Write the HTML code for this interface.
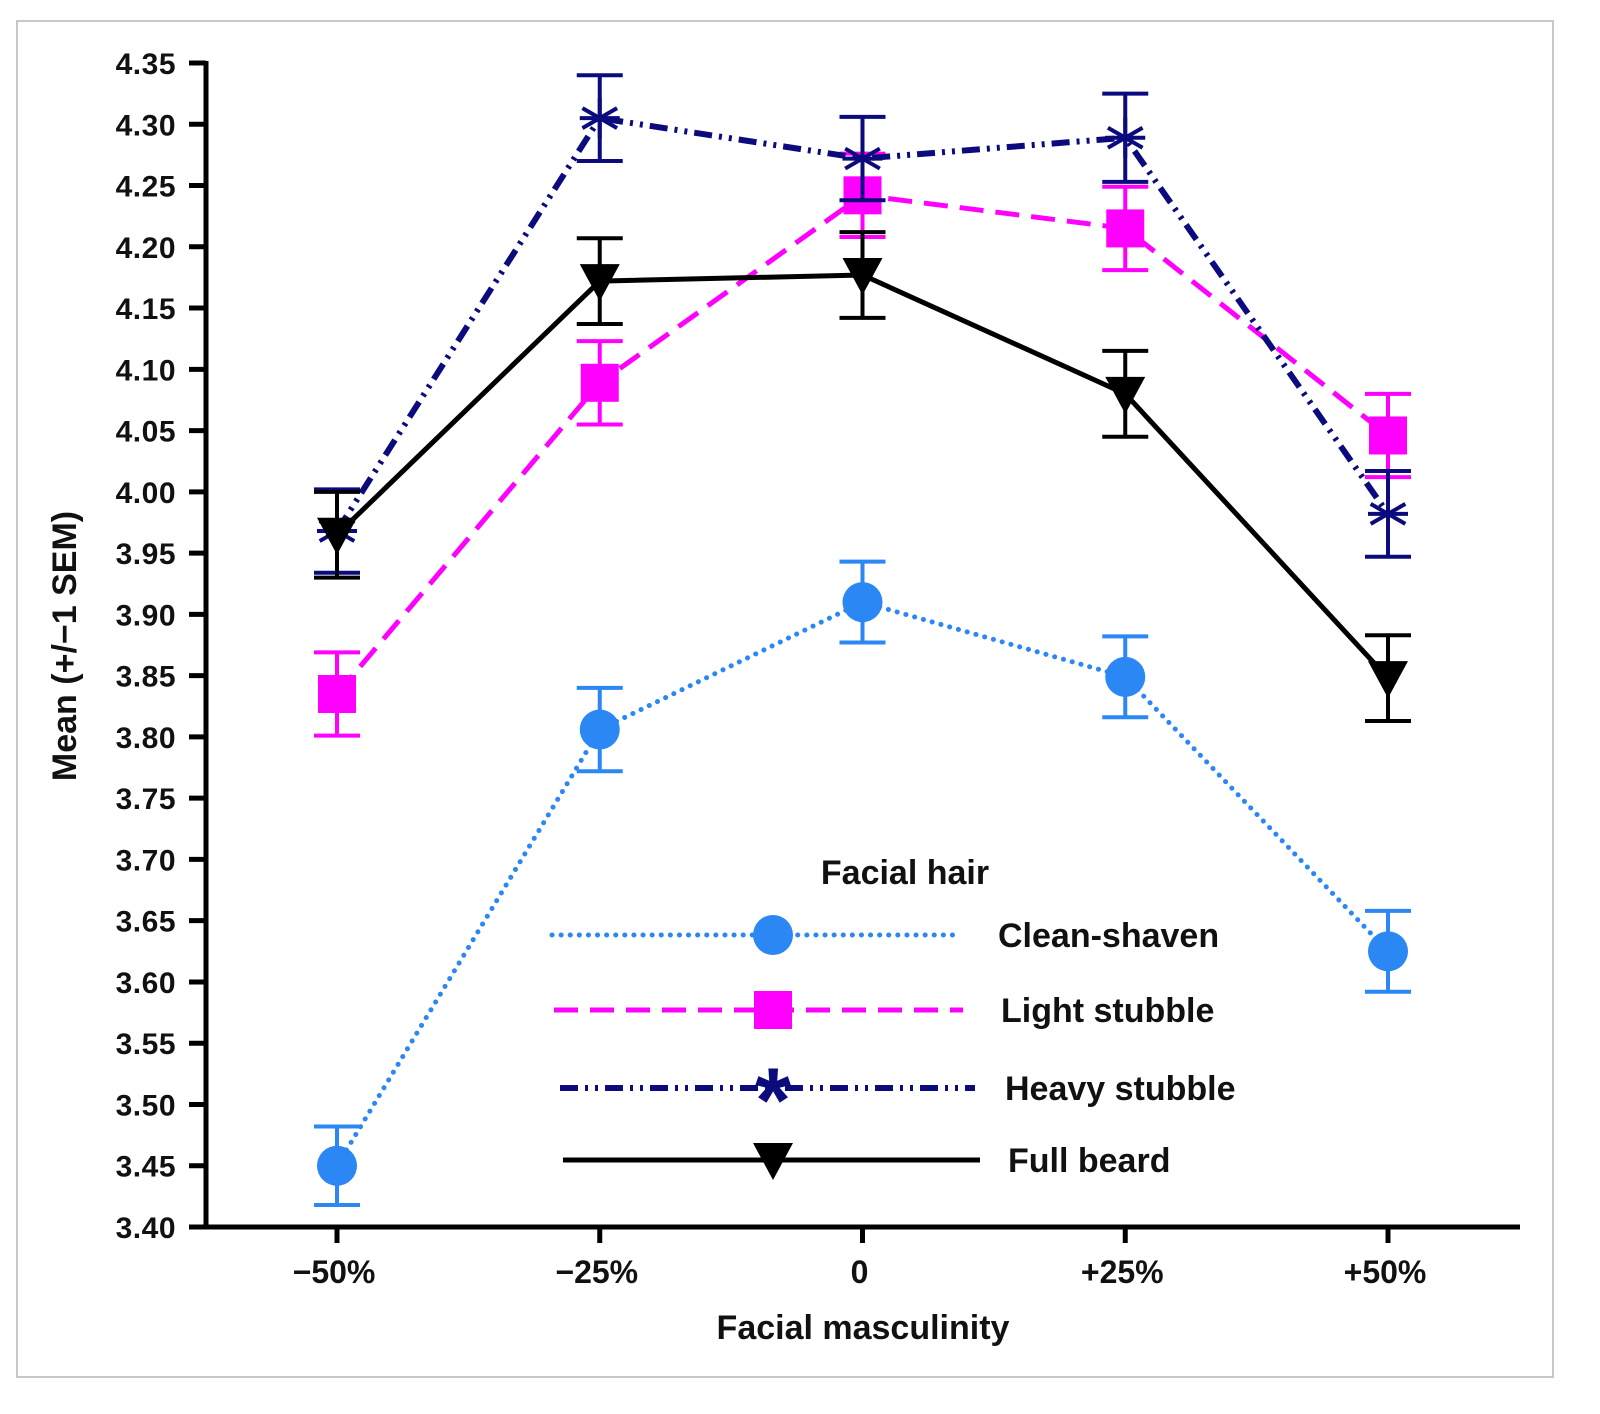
<!DOCTYPE html>
<html><head><meta charset="utf-8"><style>
body{margin:0;background:#fff}
svg{display:block;font-family:"Liberation Sans",Arial,sans-serif;font-weight:bold}
</style></head><body>
<svg id="chart" width="1600" height="1414" xmlns="http://www.w3.org/2000/svg">
<rect x="17" y="21" width="1536" height="1356" fill="#fff" stroke="#c8c8c8" stroke-width="2"/>
<g id="plot"></g>
</svg>
<script>
const categories=["\u221250%","\u221225%","0","+25%","+50%"];
const yTicks=["3.40","3.45","3.50","3.55","3.60","3.65","3.70","3.75","3.80","3.85","3.90","3.95","4.00","4.05","4.10","4.15","4.20","4.25","4.30","4.35"];
const cleanMean=[3.450,3.806,3.910,3.849,3.625];
const cleanSem=[0.032,0.034,0.033,0.033,0.033];
const lightMean=[3.835,4.089,4.242,4.215,4.046];
const lightSem=[0.034,0.034,0.034,0.034,0.034];
const heavyMean=[3.968,4.305,4.272,4.289,3.982];
const heavySem=[0.034,0.035,0.034,0.036,0.035];
const fullMean=[3.965,4.172,4.177,4.080,3.848];
const fullSem=[0.035,0.035,0.035,0.035,0.035];
const seriesNames=["Clean-shaven","Light stubble","Heavy stubble","Full beard"];

const NS="http://www.w3.org/2000/svg";
const g=document.getElementById('plot');
function X(i){return 337+i*262.75;}
function Y(v){return 1227-(v-3.40)/0.95*1164;}
function el(t,a,p){const e=document.createElementNS(NS,t);for(const k in a)e.setAttribute(k,a[k]);(p||g).appendChild(e);return e;}

const yAxis=el('line',{x1:206,y1:61,x2:206,y2:1229,stroke:'#000','stroke-width':5});


const xAxis=el('line',{x1:189,y1:1227,x2:1520,y2:1227,stroke:'#000','stroke-width':5});


yTicks.forEach(t=>{
  const y=Y(parseFloat(t));
  const tk=el('line',{x1:189,y1:y,x2:206,y2:y,stroke:'#000','stroke-width':5});
  
  
  const tx=el('text',{x:176,y:y+11,'text-anchor':'end','font-size':30,fill:'#111','letter-spacing':'0.5'});
  tx.textContent=t;
  
  
});
categories.forEach((c,i)=>{
  const tk=el('line',{x1:X(i),y1:1227,x2:X(i),y2:1243,stroke:'#000','stroke-width':5});
  
  
  const tx=el('text',{x:X(i)-3,y:1283,'text-anchor':'middle','font-size':32,fill:'#111'});
  tx.textContent=c;
  
  
});
const xt=el('text',{x:863,y:1339,'text-anchor':'middle','font-size':34,fill:'#111'});
xt.textContent='Facial masculinity';


const yt=el('text',{x:0,y:0,'text-anchor':'middle','font-size':34,fill:'#111',transform:'translate(76,646) rotate(-90)'});
yt.textContent='Mean (+/\u22121 SEM)';



function marker(kind,x,y,color,parent){
  let m;
  if(kind==='circle') m=el('circle',{cx:x,cy:y,r:20,fill:color},parent);
  else if(kind==='square') m=el('rect',{x:x-19,y:y-19,width:38,height:38,fill:color},parent);
  else if(kind==='star'){
    m=el('g',{stroke:color,'stroke-width':4},parent);
    for(let a=0;a<3;a++){const ang=a*Math.PI/3+Math.PI/2;
      el('line',{x1:x-20*Math.cos(ang),y1:y-20*Math.sin(ang),x2:x+20*Math.cos(ang),y2:y+20*Math.sin(ang)},m);}
    el('line',{x1:x-20,y1:y,x2:x+20,y2:y},m);
  } else m=el('polygon',{points:`${x-20},${y-17} ${x+20},${y-17} ${x},${y+20}`,fill:color},parent);
  return m;
}
const series=[
 {mean:cleanMean,sem:cleanSem,color:'#2b87f3',dash:'0.1 9',cap:'round',w:5,kind:'circle',name:'clean-shaven'},
 {mean:lightMean,sem:lightSem,color:'#ff00ff',dash:'24 12',cap:'butt',w:5,kind:'square',name:'light-stubble'},
 {mean:heavyMean,sem:heavySem,color:'#0b0b7e',dash:'18 7 3 7 3 7',cap:'butt',w:6,kind:'star',name:'heavy-stubble'},
 {mean:fullMean,sem:fullSem,color:'#000',dash:'none',cap:'butt',w:5,kind:'tri',name:'full-beard'}
];
series.forEach(s=>{
  const sg=el('g',{});
  
  
  const pts=s.mean.map((v,i)=>X(i)+','+Y(v)).join(' ');
  el('polyline',{points:pts,fill:'none',stroke:s.color,'stroke-width':s.w,'stroke-dasharray':s.dash,'stroke-linecap':s.cap},sg);
  s.mean.forEach((v,i)=>{
    const x=X(i),y1=Y(v+s.sem[i]),y2=Y(v-s.sem[i]);
    const eb=el('g',{stroke:s.color,'stroke-width':4},sg);
    
    
    el('line',{x1:x,y1:y1,x2:x,y2:y2},eb);
    el('line',{x1:x-23,y1:y1,x2:x+23,y2:y1},eb);
    el('line',{x1:x-23,y1:y2,x2:x+23,y2:y2},eb);
    const m=marker(s.kind,x,Y(v),s.color,sg);
    
    
  });
});
const lg=el('g',{});


const lt=el('text',{x:905,y:884,'text-anchor':'middle','font-size':34,fill:'#111'},lg);
lt.textContent='Facial hair';


const legY=[935,1010,1088,1160];
const legX1=[552,554,560,563],legX2=[955,963,975,980],labX=[998,1001,1005,1008];
series.forEach((s,i)=>{
  const e=el('g',{},lg);
  
  
  el('line',{x1:legX1[i],y1:legY[i],x2:legX2[i],y2:legY[i],stroke:s.color,'stroke-width':s.w,'stroke-dasharray':s.dash,'stroke-linecap':s.cap},e);
  if(s.kind==='star'){const t=el('text',{x:773,y:legY[i]+44,'text-anchor':'middle','font-size':92,fill:s.color},e);t.textContent='*';}
  else marker(s.kind,773,legY[i],s.color,e);
  const t=el('text',{x:labX[i],y:legY[i]+12,'font-size':34,fill:'#111'},e);
  t.textContent=seriesNames[i];
});
</script>
</body></html>
